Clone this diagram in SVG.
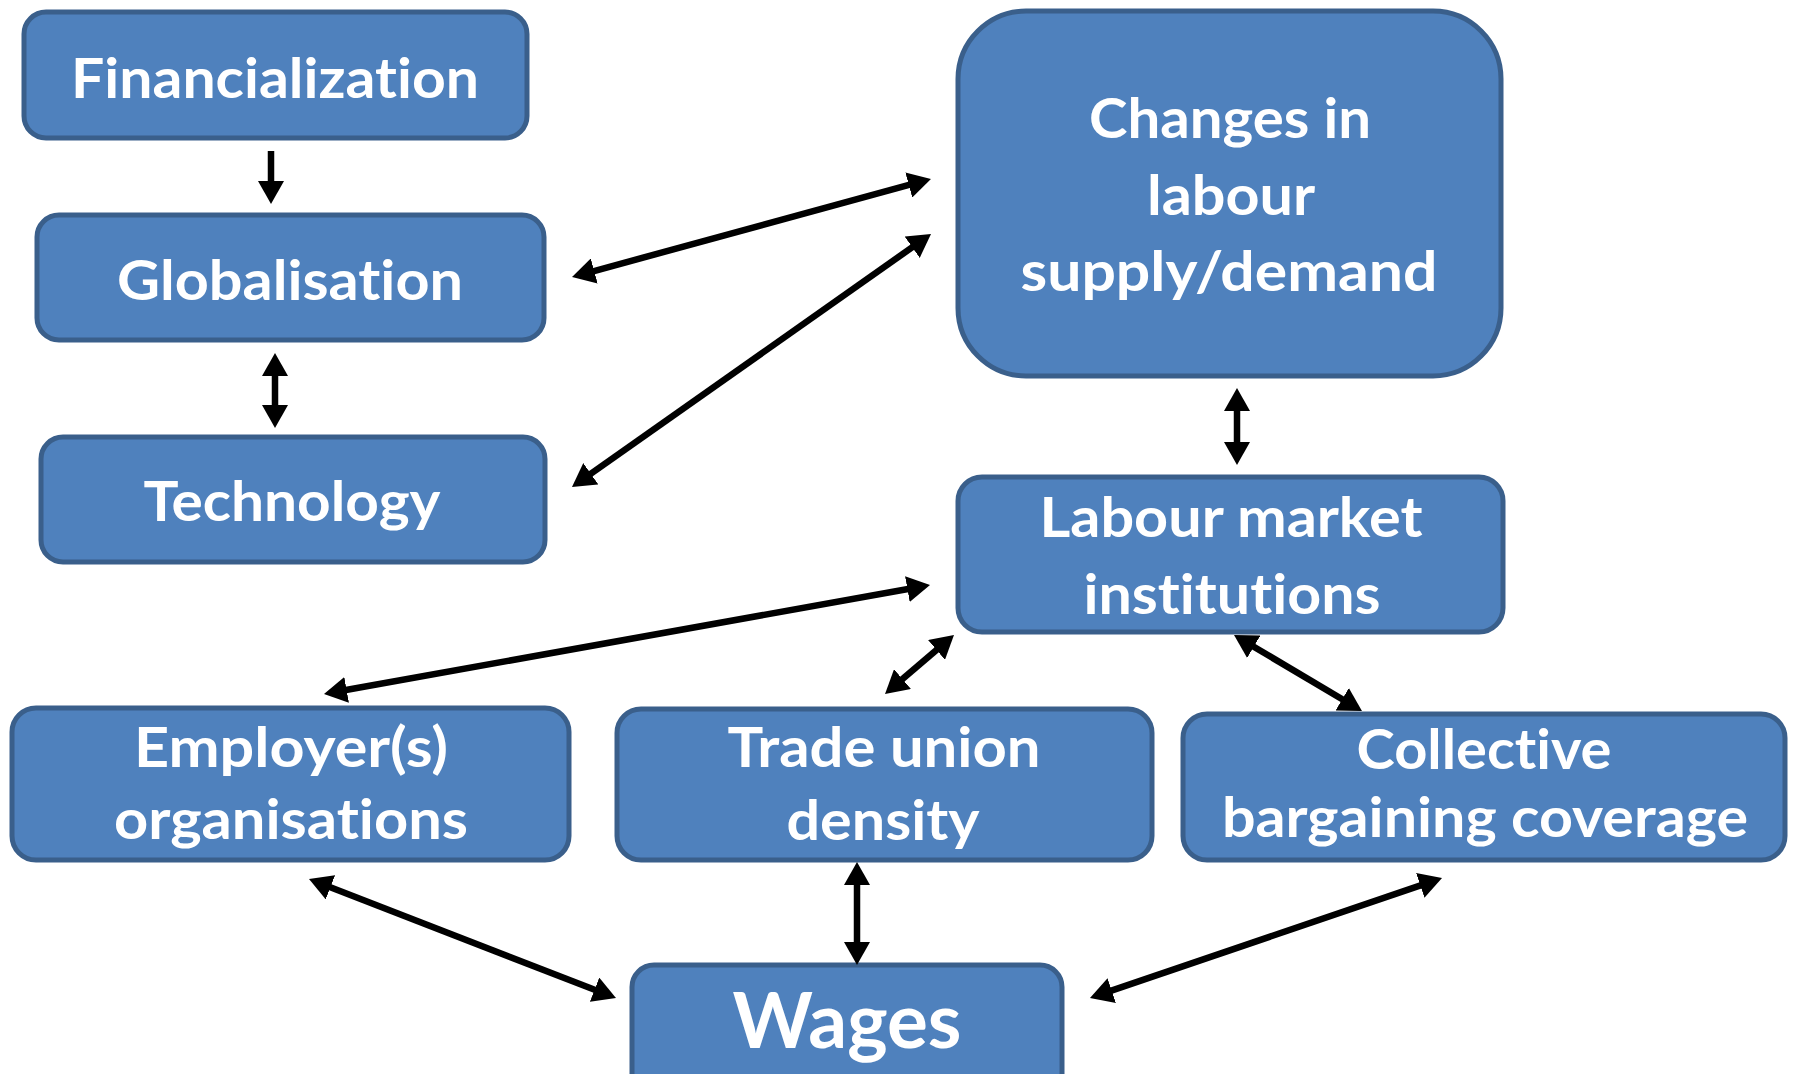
<svg xmlns="http://www.w3.org/2000/svg" width="1795" height="1074" viewBox="0 0 1795 1074">
  <style>
    .box { fill: #4F81BD; stroke: #3A5F8B; stroke-width: 5; }
    .lbl { font-family: Lato, "Open Sans", "Liberation Sans", sans-serif; font-weight: 700; font-size: 56px; fill: #FFFFFF; text-anchor: middle; font-variant-ligatures: none; font-feature-settings: "liga" 0, "dlig" 0; }
    .big { font-size: 76px; }
    .link { fill: none; stroke: #000000; stroke-width: 6.5; }
  </style>
  <defs>
    <marker id="head" markerUnits="userSpaceOnUse" markerWidth="26" markerHeight="26" viewBox="0 0 26 26" refX="5" refY="13" orient="auto-start-reverse">
      <path d="M0,0 L23,13 L0,26 z" fill="#000000"/>
    </marker>
  </defs>
  <rect width="1795" height="1074" fill="#FFFFFF"/>

  <g id="financialization">
    <rect class="box" x="24" y="12" width="503" height="126" rx="22"/>
    <text class="lbl" x="275" y="98" textLength="408" lengthAdjust="spacingAndGlyphs">Financialization</text>
  </g>

  <g id="globalisation">
    <rect class="box" x="37" y="215" width="507" height="125" rx="22"/>
    <text class="lbl" x="290" y="300" textLength="346" lengthAdjust="spacingAndGlyphs">Globalisation</text>
  </g>

  <g id="technology">
    <rect class="box" x="41" y="437" width="504" height="125" rx="22"/>
    <text class="lbl" x="292" y="521" textLength="297" lengthAdjust="spacingAndGlyphs">Technology</text>
  </g>

  <g id="labour-supply-demand">
    <rect class="box" x="958" y="11" width="543" height="365" rx="68"/>
    <text class="lbl" x="1230" y="138" textLength="282" lengthAdjust="spacingAndGlyphs">Changes in</text>
    <text class="lbl" x="1231" y="215" textLength="168" lengthAdjust="spacingAndGlyphs">labour</text>
    <text class="lbl" x="1229" y="291" textLength="417" lengthAdjust="spacingAndGlyphs">supply/demand</text>
  </g>

  <g id="labour-market-institutions">
    <rect class="box" x="958" y="477" width="545" height="155" rx="24"/>
    <text class="lbl" x="1231" y="537" textLength="383" lengthAdjust="spacingAndGlyphs">Labour market</text>
    <text class="lbl" x="1232" y="614" textLength="297" lengthAdjust="spacingAndGlyphs">institutions</text>
  </g>

  <g id="employers-organisations">
    <rect class="box" x="12" y="708" width="557" height="152" rx="24"/>
    <text class="lbl" x="291" y="767" textLength="314" lengthAdjust="spacingAndGlyphs">Employer(s)</text>
    <text class="lbl" x="291" y="839" textLength="354" lengthAdjust="spacingAndGlyphs">organisations</text>
  </g>

  <g id="trade-union-density">
    <rect class="box" x="617" y="709" width="535" height="151" rx="24"/>
    <text class="lbl" x="884" y="767" textLength="313" lengthAdjust="spacingAndGlyphs">Trade union</text>
    <text class="lbl" x="883" y="840" textLength="193" lengthAdjust="spacingAndGlyphs">density</text>
  </g>

  <g id="collective-bargaining">
    <rect class="box" x="1183" y="714" width="602" height="146" rx="24"/>
    <text class="lbl" x="1484" y="769" textLength="255" lengthAdjust="spacingAndGlyphs">Collective</text>
    <text class="lbl" x="1485" y="837" textLength="526" lengthAdjust="spacingAndGlyphs">bargaining coverage</text>
  </g>

  <g id="wages">
    <rect class="box" x="632" y="965" width="430" height="140" rx="22"/>
    <text class="lbl big" x="847" y="1048" textLength="229" lengthAdjust="spacingAndGlyphs">Wages</text>
  </g>

  <g id="connectors">
    <line class="link" x1="271" y1="151" x2="271" y2="186" marker-end="url(#head)"/>
    <line class="link" x1="275" y1="371" x2="275" y2="410" marker-start="url(#head)" marker-end="url(#head)"/>
    <line class="link" x1="589.4" y1="272.3" x2="913.6" y2="183.7" marker-start="url(#head)" marker-end="url(#head)"/>
    <line class="link" x1="586.7" y1="476.6" x2="916.3" y2="244.4" marker-start="url(#head)" marker-end="url(#head)"/>
    <line class="link" x1="1237" y1="406" x2="1237" y2="447" marker-start="url(#head)" marker-end="url(#head)"/>
    <line class="link" x1="341.7" y1="690.8" x2="912.3" y2="588.2" marker-start="url(#head)" marker-end="url(#head)"/>
    <line class="link" x1="898.7" y1="682.3" x2="940.3" y2="646.7" marker-start="url(#head)" marker-end="url(#head)"/>
    <line class="link" x1="1249.5" y1="644.2" x2="1346.5" y2="701.8" marker-start="url(#head)" marker-end="url(#head)"/>
    <line class="link" x1="325.8" y1="885.5" x2="599.2" y2="991.5" marker-start="url(#head)" marker-end="url(#head)"/>
    <line class="link" x1="857" y1="880" x2="857" y2="947" marker-start="url(#head)" marker-end="url(#head)"/>
    <line class="link" x1="1425.0" y1="883.8" x2="1107.0" y2="992.2" marker-start="url(#head)" marker-end="url(#head)"/>
  </g>
</svg>
